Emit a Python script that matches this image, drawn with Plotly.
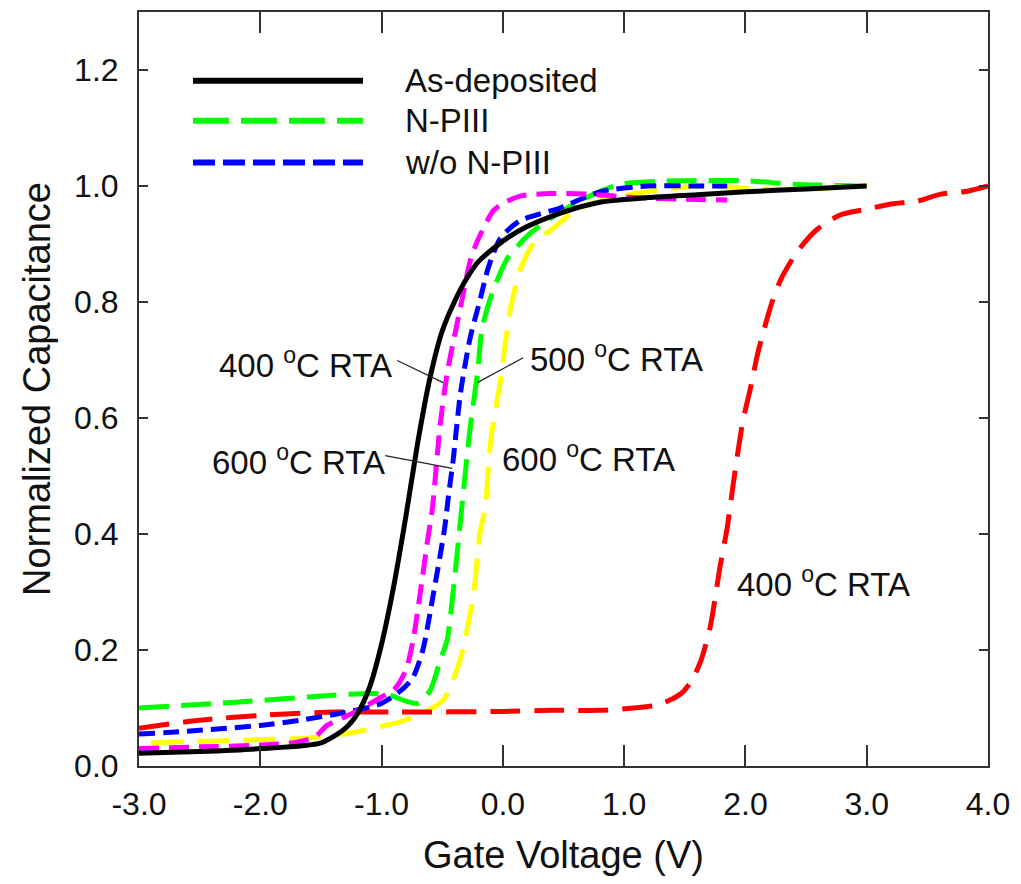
import plotly.graph_objects as go

# ---- data ----
as_dep_x = [-3.0, -2.5, -2.0, -1.5, -1.3, -1.2, -1.1, -1.0, -0.9, -0.8, -0.7, -0.6, -0.5, -0.4, -0.3, -0.2, 0.0, 0.2, 0.5, 0.8, 1.2, 1.6, 2.0, 2.5, 3.0]
as_dep_y = [0.022, 0.025, 0.03, 0.04, 0.065, 0.09, 0.135, 0.21, 0.31, 0.43, 0.56, 0.67, 0.75, 0.80, 0.84, 0.87, 0.905, 0.93, 0.955, 0.972, 0.98, 0.985, 0.99, 0.995, 1.0]

n400_x = [-3.0, -2.5, -1.94, -1.4, -0.85, 0.0, 0.4, 0.8, 1.08, 1.25, 1.36, 1.47, 1.55, 1.63, 1.71, 1.79, 1.85, 1.90, 1.94, 1.98, 2.04, 2.10, 2.15, 2.22, 2.29, 2.37, 2.45, 2.59, 2.78, 3.0, 3.2, 3.42, 3.61, 3.83, 4.0]
n400_y = [0.065, 0.079, 0.088, 0.093, 0.093, 0.094, 0.096, 0.096, 0.10, 0.104, 0.112, 0.125, 0.145, 0.18, 0.24, 0.343, 0.411, 0.487, 0.544, 0.596, 0.65, 0.71, 0.75, 0.80, 0.838, 0.868, 0.893, 0.925, 0.95, 0.96, 0.969, 0.974, 0.986, 0.991, 1.0]

n500_x = [-3.0, -2.2, -1.4, -1.07, -0.93, -0.8, -0.7, -0.6, -0.52, -0.46, -0.4, -0.33, -0.27, -0.21, -0.17, -0.09, 0.04, 0.23, 0.45, 0.72, 0.97, 1.4, 2.0, 2.4, 3.0]
n500_y = [0.10, 0.11, 0.122, 0.125, 0.122, 0.112, 0.108, 0.13, 0.18, 0.217, 0.32, 0.463, 0.583, 0.676, 0.756, 0.814, 0.876, 0.919, 0.952, 0.983, 1.003, 1.009, 1.009, 1.003, 1.0]

n600_x = [-2.9, -2.08, -1.61, -1.26, -0.85, -0.66, -0.49, -0.41, -0.33, -0.24, -0.19, -0.145, -0.1, -0.02, 0.06, 0.14, 0.25, 0.42, 0.61, 0.89, 1.36, 1.63, 2.12, 2.51, 2.89, 3.0]
n600_y = [0.04, 0.045, 0.048, 0.057, 0.076, 0.091, 0.114, 0.148, 0.2, 0.3, 0.4, 0.446, 0.561, 0.664, 0.785, 0.854, 0.9, 0.928, 0.96, 0.979, 0.995, 1.0, 0.995, 0.995, 1.0, 1.0]

wo400_x = [-3.0, -2.5, -2.0, -1.7, -1.55, -1.45, -1.3, -1.2, -1.0, -0.9, -0.8, -0.74, -0.68, -0.62, -0.58, -0.52, -0.46, -0.4, -0.35, -0.27, -0.21, -0.08, 0.0, 0.15, 0.4, 0.7, 1.1, 1.5, 1.85]
wo400_y = [0.03, 0.033, 0.036, 0.041, 0.05, 0.07, 0.085, 0.095, 0.119, 0.131, 0.165, 0.217, 0.30, 0.39, 0.446, 0.583, 0.676, 0.74, 0.79, 0.87, 0.905, 0.957, 0.97, 0.983, 0.987, 0.986, 0.98, 0.977, 0.976]

wo600_x = [-3.0, -2.6, -2.0, -1.67, -1.34, -1.0, -0.82, -0.74, -0.66, -0.57, -0.48, -0.45, -0.41, -0.35, -0.27, -0.19, -0.12, -0.02, 0.14, 0.47, 0.8, 1.2, 1.6, 1.85]
wo600_y = [0.055, 0.06, 0.07, 0.079, 0.091, 0.108, 0.134, 0.153, 0.2, 0.3, 0.41, 0.463, 0.527, 0.642, 0.738, 0.802, 0.859, 0.91, 0.94, 0.962, 0.99, 1.0, 1.0, 1.0]

legend_labels = ["As-deposited", "N-PIII", "w/o N-PIII"]
x_ticks = [-3.0, -2.0, -1.0, 0.0, 1.0, 2.0, 3.0, 4.0]
x_tick_text = ["-3.0", "-2.0", "-1.0", "0.0", "1.0", "2.0", "3.0", "4.0"]
y_ticks = [0.0, 0.2, 0.4, 0.6, 0.8, 1.0, 1.2]
y_tick_text = ["0.0", "0.2", "0.4", "0.6", "0.8", "1.0", "1.2"]

FONT = "Liberation Sans, Arial, sans-serif"
LW = 5

fig = go.Figure()

def add(x, y, color, dash, name):
    fig.add_trace(go.Scatter(x=x, y=y, mode="lines", name=name, showlegend=False,
                             line=dict(color=color, width=LW, dash=dash, shape="spline", smoothing=0.7)))

add(n500_x, n500_y, "#00ff00", "30px,12px", "N-PIII 500")
add(n600_x, n600_y, "#ffff00", "32px,14px", "N-PIII 600")
add(n400_x, n400_y, "#ff0000", "30px,14px", "N-PIII 400")
add(wo600_x, wo600_y, "#0000ff", "16px,8px", "w/o N-PIII 600")
add(wo400_x, wo400_y, "#ff00ff", "20px,10px", "w/o N-PIII 400")
add(as_dep_x, as_dep_y, "#000000", "solid", "As-deposited")

shapes = []
annotations = []

# legend (drawn manually)
leg_y = [0.9087, 0.8558, 0.8003]
leg_col = ["#000000", "#00ff00", "#0000ff"]
leg_dash = ["solid", "36px,12px", "22px,8px"]
for yy, c, d, lab in zip(leg_y, leg_col, leg_dash, legend_labels):
    shapes.append(dict(type="line", xref="paper", yref="paper", x0=0.0636, x1=0.2638, y0=yy, y1=yy,
                       line=dict(color=c, width=6, dash=d)))
    annotations.append(dict(xref="paper", yref="paper", x=0.311, y=yy, text=lab, showarrow=False,
                            xanchor="left", yanchor="middle", font=dict(family=FONT, size=33, color="#111")))

# leader lines
leaders = [(-0.871, 0.699, -0.492, 0.661), (-0.970, 0.535, -0.417, 0.513), (0.168, 0.704, -0.211, 0.661)]
for x0, y0, x1, y1 in leaders:
    shapes.append(dict(type="line", xref="x", yref="y", x0=x0, y0=y0, x1=x1, y1=y1,
                       line=dict(color="#222", width=1.2)))

labels = [
    (-0.9, 0.695, "right", "400 <sup>o</sup>C RTA"),
    (-0.957, 0.527, "right", "600 <sup>o</sup>C RTA"),
    (0.21, 0.705, "left", "500 <sup>o</sup>C RTA"),
    (-0.025, 0.532, "left", "600 <sup>o</sup>C RTA"),
    (1.915, 0.318, "left", "400 <sup>o</sup>C RTA"),
]
for x, y, xa, t in labels:
    annotations.append(dict(x=x, y=y, text=t, showarrow=False, xanchor=xa, yanchor="middle",
                            font=dict(family=FONT, size=33, color="#111")))

axis_common = dict(showline=True, linecolor="#333", linewidth=2, mirror="ticks",
                   ticks="inside", tickcolor="#333", tickwidth=2, showgrid=False, zeroline=False,
                   tickfont=dict(family=FONT, size=32, color="#111"))

fig.update_layout(
    width=1013, height=876,
    margin=dict(l=131, r=33, t=2, b=118),
    paper_bgcolor="white", plot_bgcolor="white",
    shapes=shapes, annotations=annotations, showlegend=False,
    xaxis=dict(range=[-3.0, 4.0], tickmode="array", tickvals=x_ticks, ticktext=x_tick_text,
               ticklen=21, ticklabelstandoff=9,
               title=dict(text="Gate Voltage (V)", font=dict(family=FONT, size=38, color="#111"), standoff=20),
               **axis_common),
    yaxis=dict(range=[0.0, 1.3], tickmode="array", tickvals=y_ticks, ticktext=y_tick_text,
               ticklen=9, ticklabelstandoff=12,
               title=dict(text="Normalized Capacitance", font=dict(family=FONT, size=38, color="#111"), standoff=12),
               **axis_common),
)

fig.write_html("out.html")
